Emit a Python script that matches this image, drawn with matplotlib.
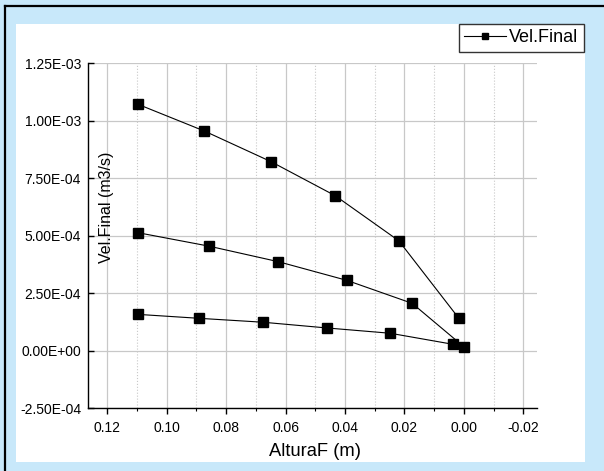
import matplotlib
matplotlib.use("Agg")
import matplotlib.pyplot as plt
import matplotlib.ticker as ticker
from matplotlib.lines import Line2D
from matplotlib.patches import Rectangle

plt.rcParams['font.family'] = ['Liberation Sans', 'DejaVu Sans']

# datos (altura en m, velocidad final en m3/s)
altura_1 = [0.1096, 0.0873, 0.0649, 0.0433, 0.0219, 0.0017]
vel_1 = [1.070e-3, 9.54e-4, 8.21e-4, 6.73e-4, 4.77e-4, 1.40e-4]

altura_2 = [0.1096, 0.0859, 0.0624, 0.0394, 0.0174, -0.0001]
vel_2 = [5.12e-4, 4.54e-4, 3.86e-4, 3.05e-4, 2.05e-4, 1.5e-5]

altura_3 = [0.1096, 0.0892, 0.0677, 0.0461, 0.0248, 0.0037]
vel_3 = [1.57e-4, 1.40e-4, 1.23e-4, 9.8e-5, 7.5e-5, 2.7e-5]

x_ticks = [0.12, 0.10, 0.08, 0.06, 0.04, 0.02, 0.00, -0.02]
y_ticks = [-2.5e-4, 0.0, 2.5e-4, 5.0e-4, 7.5e-4, 1.0e-3, 1.25e-3]

W, H = 604, 471
fig = plt.figure(figsize=(W / 100, H / 100), dpi=100)
fig.patch.set_facecolor('#C8E8FA')

# marco negro y hoja blanca
fig.add_artist(Line2D([4.5 / W, 4.5 / W], [0, 1 - 6 / H], color='black', lw=1.6))
fig.add_artist(Line2D([4.5 / W, 1], [1 - 6 / H, 1 - 6 / H], color='black', lw=1.6))
fig.add_artist(Rectangle((16 / W, 1 - 462 / H), (585 - 16) / W, (462 - 24) / H,
                         facecolor='white', edgecolor='none', zorder=0))

ax = fig.add_axes([88 / W, 1 - 408 / H, 449 / W, 345 / H])
ax.set_facecolor('none')

ax.plot(altura_1, vel_1, '-', color='black', lw=0.8, marker='s', ms=6.5, label='Vel.Final')
ax.plot(altura_2, vel_2, '-', color='black', lw=0.8, marker='s', ms=6.5)
ax.plot(altura_3, vel_3, '-', color='black', lw=0.8, marker='s', ms=6.5)

ax.set_xlim(0.1265, -0.0246)
ax.set_ylim(-2.5e-4, 1.25e-3)
ax.set_xticks(x_ticks)
ax.set_xticklabels(["%.2f" % v for v in x_ticks])
ax.xaxis.set_minor_locator(ticker.MultipleLocator(0.01))
ax.set_yticks(y_ticks)
ax.set_yticklabels(["%.2E" % v for v in y_ticks])

ax.spines['top'].set_visible(False)
ax.spines['right'].set_visible(False)
ax.spines['left'].set_linewidth(1.0)
ax.spines['bottom'].set_linewidth(1.0)

ax.tick_params(axis='x', which='major', direction='out', length=4, width=1, pad=5, labelsize=10)
ax.tick_params(axis='x', which='minor', direction='out', length=2.5, width=0.8)
ax.tick_params(axis='y', which='major', direction='in', length=4.5, width=1, pad=5, labelsize=10)

ax.grid(True, which='major', color='#c8c8c8', lw=0.9, ls='-')
ax.grid(True, which='minor', axis='x', color='#c8c8c8', lw=0.8, ls=':')
ax.set_axisbelow(True)

fig.text(107 / W, 1 - 207 / H, 'Vel.Final (m3/s)', rotation=90, ha='center', va='center', fontsize=11.5)
fig.text(315 / W, 1 - 451 / H, 'AlturaF (m)', ha='center', va='center', fontsize=13.2)

leg = ax.legend(loc='upper right', bbox_to_anchor=(584 / W, 1 - 24 / H), bbox_transform=fig.transFigure,
                fontsize=13, frameon=True, fancybox=False, borderpad=0.3, handlelength=2.3,
                handletextpad=0.2, borderaxespad=0, markerscale=0.6)
leg.get_frame().set_edgecolor('black')
leg.get_frame().set_linewidth(1.0)

fig.savefig('out.png', dpi=100, facecolor=fig.get_facecolor())
